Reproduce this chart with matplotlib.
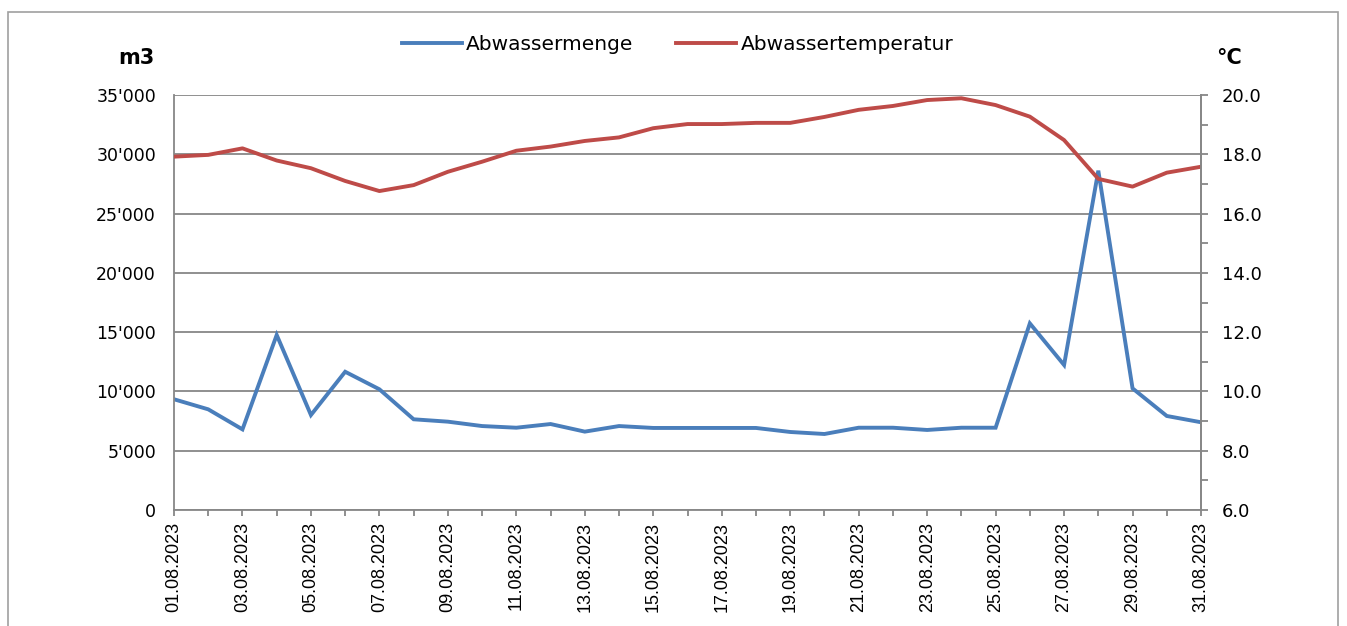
# Abwassermenge und Abwassertemperatur August 2023

import matplotlib
matplotlib.use("Agg")
import matplotlib.pyplot as plt
from matplotlib.patches import Rectangle
from matplotlib.ticker import FuncFormatter, MultipleLocator

# Data
days = ["%02d.08.2023" % d for d in range(1, 32)]

# Abwassermenge in m3
menge = [9340, 8490, 6800, 14760, 8010, 11660, 10180, 7650, 7450, 7080,
         6940, 7250, 6610, 7080, 6920, 6920, 6920, 6920, 6580, 6410,
         6940, 6940, 6750, 6940, 6940, 15740, 12230, 28620, 10260, 7930,
         7400]

# Abwassertemperatur in °C
temp = [17.92, 17.98, 18.20, 17.79, 17.53, 17.10, 16.76, 16.96, 17.41, 17.75,
        18.12, 18.26, 18.45, 18.57, 18.88, 19.02, 19.02, 19.06, 19.06, 19.26,
        19.50, 19.63, 19.83, 19.89, 19.66, 19.27, 18.48, 17.17, 16.91, 17.38,
        17.58]

BLUE = "#4a7ebb"
RED = "#be4b48"
GRID = "#878787"

fig = plt.figure(figsize=(13.47, 6.26), dpi=100)

# outer frame (cut off at the bottom like the screenshot)
fig.patches.append(Rectangle((8 / 1347, -0.05), 1330 / 1347, 1.05 - 12 / 626,
                             transform=fig.transFigure, fill=False,
                             edgecolor="#a0a0a0", linewidth=1.2))

ax = fig.add_axes([0.12918, 0.18530, 0.76244, 0.66294])
x = list(range(len(days)))

ax.plot(x, menge, color=BLUE, linewidth=2.8, label="Abwassermenge",
        solid_joinstyle="miter")
ax.set_xlim(0, len(days) - 1)
ax.set_ylim(0, 35000)
ax.yaxis.set_major_locator(MultipleLocator(5000))
ax.yaxis.set_major_formatter(FuncFormatter(lambda v, p: f"{v:,.0f}".replace(",", "'")))
ax.grid(True, axis="y", color=GRID, linewidth=1.3)
ax.set_axisbelow(True)
ax.tick_params(axis="y", length=0, pad=13, labelsize=12.5)

ax.set_xticks(x)
ax.set_xticklabels([d if i % 2 == 0 else "" for i, d in enumerate(days)],
                   rotation=90, fontfamily="Liberation Sans", fontsize=13)
ax.tick_params(axis="x", length=4.5, width=1.3, color=GRID, direction="out",
               pad=4)

for s in ["left", "bottom", "right"]:
    ax.spines[s].set_color(GRID)
    ax.spines[s].set_linewidth(1.3)
ax.spines["top"].set_visible(False)

ax2 = ax.twinx()
ax2.plot(x, temp, color=RED, linewidth=2.8, label="Abwassertemperatur")
ax2.set_ylim(6, 20)
ax2.yaxis.set_major_locator(MultipleLocator(2))
ax2.yaxis.set_minor_locator(MultipleLocator(1))
ax2.yaxis.set_major_formatter(FuncFormatter(lambda v, p: f"{v:.1f}"))
ax2.tick_params(axis="y", which="both", length=5, width=1.3, color=GRID,
                direction="out", pad=10, labelsize=13)
for s in ["left", "top", "bottom"]:
    ax2.spines[s].set_visible(False)
ax2.spines["right"].set_color(GRID)
ax2.spines["right"].set_linewidth(1.3)

# axis unit labels
fig.text(155 / 1347, 1 - 58 / 626, "m3", ha="right", va="center",
         fontsize=15, fontweight="bold")
fig.text(1216 / 1347, 1 - 58 / 626, "°C", ha="left", va="center",
         fontsize=15, fontweight="bold")

h1, l1 = ax.get_legend_handles_labels()
h2, l2 = ax2.get_legend_handles_labels()
fig.legend(h1 + h2, l1 + l2, loc="center", bbox_to_anchor=(0.503, 1 - 45 / 626),
           ncol=2, frameon=False, fontsize=14.5, handlelength=3.0,
           handletextpad=0.2, columnspacing=2.1)

fig.savefig("out.png", dpi=100)
